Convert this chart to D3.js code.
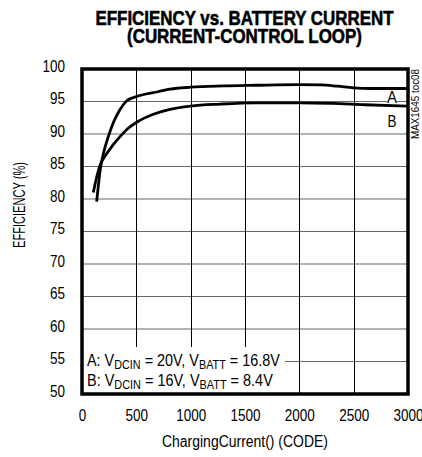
<!DOCTYPE html>
<html><head><meta charset="utf-8">
<script src="https://cdn.jsdelivr.net/npm/d3@7"></script>
<style>
html,body{margin:0;padding:0;background:#fff;}
svg{display:block;}
text{font-family:"Liberation Sans",Arimo,Arial,sans-serif;fill:#000;}
</style></head>
<body>
<script>
const titleLines = ["EFFICIENCY vs. BATTERY CURRENT", "(CURRENT-CONTROL LOOP)"];
const xTicks = [0, 500, 1000, 1500, 2000, 2500, 3000];
const yTicks = [50, 55, 60, 65, 70, 75, 80, 85, 90, 95, 100];
const xLabel = "ChargingCurrent() (CODE)";
const yLabel = "EFFICIENCY (%)";
const watermark = "MAX1645 toc08";
// Curve A: VDCIN = 20V, VBATT = 16.8V
const seriesA = [[135,79.6],[150,82.0],[166,84.3],[200,87.2],[242,89.6],[290,91.8],[334,93.3],[380,94.5],[420,95.2],[472,95.6],[550,96.0],[700,96.5],[810,96.9],[1000,97.2],[1300,97.4],[1600,97.5],[2000,97.6],[2200,97.55],[2350,97.35],[2500,97.1],[2650,97.0],[3000,97.0]];
// Curve B: VDCIN = 16V, VBATT = 8.4V
const seriesB = [[104,81.0],[130,83.0],[166,85.2],[220,86.8],[280,88.2],[350,89.6],[420,90.8],[503,91.8],[650,93.0],[810,93.8],[1000,94.3],[1270,94.6],[1600,94.8],[2000,94.8],[2300,94.7],[2600,94.5],[3000,94.3]];

const W = 422, H = 457;
const L = 82, R = 408, T = 69, B = 394;
const svg = d3.select("body").append("svg").attr("width", W).attr("height", H);
const x = d3.scaleLinear().domain([0, 3000]).range([L, R]);
const y = d3.scaleLinear().domain([50, 100]).range([B, T]);

function narrow(sel, perChar){
  sel.each(function(){
    const n = this.textContent.length;
    d3.select(this).attr("textLength", n*perChar).attr("lengthAdjust","spacingAndGlyphs");
  });
}

// title
const titleW = [298, 235];
svg.selectAll("text.title").data(titleLines).enter().append("text")
  .attr("class","title").attr("x", 244.5).attr("y", (d,i)=>25 + i*18)
  .attr("text-anchor","middle").style("font-weight","bold").style("font-size","21px")
  .attr("stroke","#000").attr("stroke-width",0.6)
  .attr("textLength",(d,i)=>titleW[i]).attr("lengthAdjust","spacingAndGlyphs")
  .text(d=>d);

// gridlines
svg.append("g").selectAll("line").data(yTicks.filter(v=>v>50&&v<100)).enter().append("line")
  .attr("x1", L).attr("x2", R).attr("y1", d=>y(d)).attr("y2", d=>y(d))
  .attr("stroke","#666").attr("stroke-width",1.2);
svg.append("g").selectAll("line").data(xTicks.filter(v=>v>0&&v<3000)).enter().append("line")
  .attr("y1", T).attr("y2", B).attr("x1", d=>Math.round(x(d))+0.5).attr("x2", d=>Math.round(x(d))+0.5)
  .attr("stroke","#000").attr("stroke-width",1);

// legend white box
svg.append("rect").attr("x", L).attr("y", 347).attr("width", 285-L).attr("height", B-347).attr("fill","#fff");

// curves
const line = d3.line().x(d=>x(d[0])).y(d=>y(d[1])).curve(d3.curveMonotoneX);
[seriesA, seriesB].forEach(s=>{
  svg.append("path").datum(s).attr("d", line).attr("fill","none")
    .attr("stroke","#000").attr("stroke-width",2.8).attr("stroke-linecap","butt");
});

// frame
svg.append("rect").attr("x", L).attr("y", T).attr("width", R-L).attr("height", B-T)
  .attr("fill","none").attr("stroke","#000").attr("stroke-width",3.5);

// axes labels (via d3 axes, domain hidden)
const yAxis = svg.append("g").attr("transform",`translate(${L},0)`)
  .call(d3.axisLeft(y).tickValues(yTicks).tickSize(0).tickPadding(17));
const xAxis = svg.append("g").attr("transform",`translate(0,${B})`)
  .call(d3.axisBottom(x).tickValues(xTicks).tickSize(0).tickPadding(16).tickFormat(d3.format("d")));
[yAxis, xAxis].forEach(g=>{
  g.select(".domain").remove();
  g.selectAll("text").style("font-size","16px").attr("fill","#000")
   .style("font-family",'"Liberation Sans",Arimo,Arial,sans-serif');
  narrow(g.selectAll("text"), 7.5);
});
yAxis.selectAll("text").attr("dy","0.13em");

svg.append("text").attr("x", 245).attr("y", 447).attr("text-anchor","middle")
  .style("font-size","16px").attr("textLength",166).attr("lengthAdjust","spacingAndGlyphs").text(xLabel);
svg.append("text").attr("transform","translate(25,205) rotate(-90)").attr("text-anchor","middle")
  .style("font-size","16px").attr("textLength",86).attr("lengthAdjust","spacingAndGlyphs").text(yLabel);

// curve labels
const labA = svg.append("g");
labA.append("rect").attr("x", 387).attr("y", 90).attr("width", 10).attr("height", 13).attr("fill","#fff");
labA.append("text").attr("x", 392).attr("y", 103).attr("text-anchor","middle").style("font-size","16px")
  .attr("textLength",10).attr("lengthAdjust","spacingAndGlyphs").text("A");
svg.append("text").attr("x", 392).attr("y", 127).attr("text-anchor","middle").style("font-size","16px")
  .attr("textLength",9).attr("lengthAdjust","spacingAndGlyphs").text("B");

// watermark
svg.append("text").attr("transform","translate(419,104) rotate(-90)").attr("text-anchor","middle")
  .style("font-size","10px").attr("textLength",70).attr("lengthAdjust","spacingAndGlyphs").text(watermark);

// legend text
function legendLine(yy, lead, v1, v2, target){
  const t = svg.append("text").attr("x", 0).attr("y", 0).style("font-size","16px");
  t.append("tspan").text(lead + "V");
  t.append("tspan").attr("dy", 3).style("font-size","12px").text("DCIN");
  t.append("tspan").attr("dy", -3).text(" = " + v1 + ", V");
  t.append("tspan").attr("dy", 3).style("font-size","12px").text("BATT");
  t.append("tspan").attr("dy", -3).text(" = " + v2);
  const w = t.node().getComputedTextLength();
  t.attr("transform", `translate(87,${yy}) scale(${target/w},1)`);
}
legendLine(366, "A: ", "20V", "16.8V", 193);
legendLine(386, "B: ", "16V", "8.4V", 186);
</script>
</body></html>
